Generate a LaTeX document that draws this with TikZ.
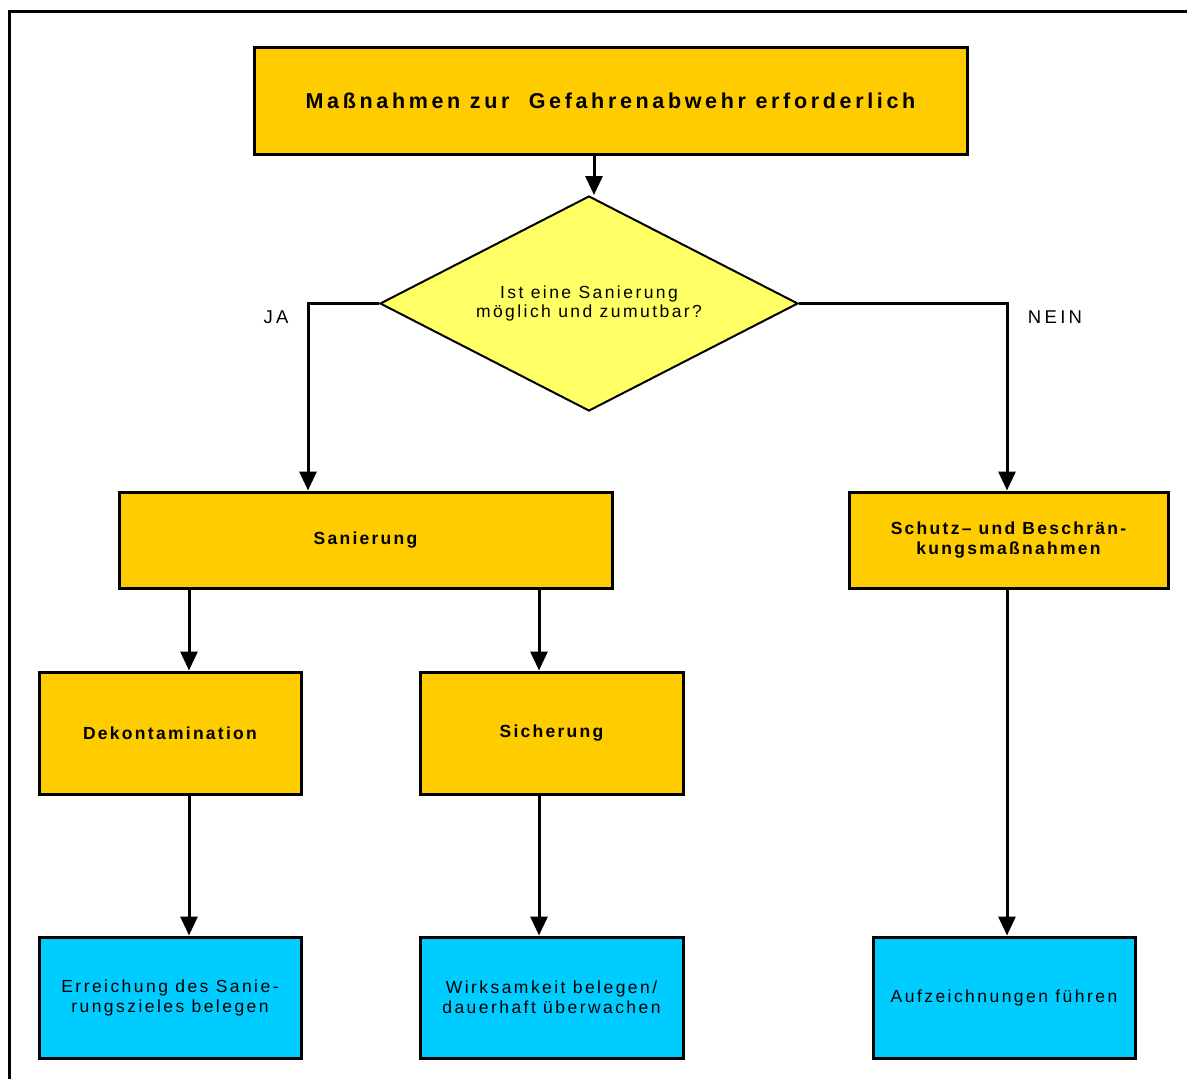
\documentclass[tikz,border=0pt]{standalone}
\usepackage{fontspec}
\setmainfont{Liberation Sans}
% letter-spaced Arial-like faces for the box labels
\newfontfamily\titlefont[LetterSpace=17]{Liberation Sans}
\newfontfamily\labelfont[LetterSpace=13]{Liberation Sans}
\newfontfamily\notefont[LetterSpace=14]{Liberation Sans}
\newfontfamily\branchfont[LetterSpace=18]{Liberation Sans}
\usetikzlibrary{arrows.meta,shapes.geometric}
\definecolor{boxyellow}{HTML}{FFCC00}
\definecolor{askyellow}{HTML}{FFFF66}
\definecolor{boxblue}{HTML}{00CCFF}

\begin{document}
\begin{tikzpicture}[x=1pt,y=-1pt,
  frame/.style={line width=3pt},
  stepbox/.style={draw, line width=3pt, fill=boxyellow, inner sep=0pt, align=center,
    font=\labelfont\bfseries\fontsize{17.5}{20}\selectfont},
  resultbox/.style={draw, line width=3pt, fill=boxblue, inner sep=0pt, align=center,
    font=\notefont\fontsize{17.5}{20}\selectfont},
  question/.style={draw, line width=2pt, fill=askyellow, shape=diamond, aspect=1.94,
    inner sep=0pt, align=center, minimum width=418pt, minimum height=215pt,
    font=\notefont\fontsize{17.5}{19}\selectfont},
  flow/.style={line width=3pt, -{Triangle[length=19pt,width=17pt]}},
  branch/.style={font=\branchfont\fontsize{18.5}{20}\selectfont}]
\useasboundingbox (0,0) rectangle (1187,1079);

% outer frame (open to the right and bottom)
\draw[frame] (9,1079) -- (9,11) -- (1187,11);

% columns used by the connectors
\coordinate (colT) at (594,0);
\coordinate (colJ) at (308,0);
\coordinate (colN) at (1007,0);
\coordinate (colA) at (189,0);
\coordinate (colB) at (539,0);

\node[stepbox, minimum width=713pt, minimum height=107pt,
      font=\titlefont\bfseries\fontsize{21.5}{22}\selectfont]
  (top) at (610.5,100.5) {Maßnahmen zur\ \ Gefahrenabwehr erforderlich};

\node[question] (ask) at (589,303.5) {Ist eine Sanierung\\möglich und zumutbar?};

\node[stepbox, minimum width=493pt, minimum height=96pt] (san) at (365.5,540) {Sanierung};
\node[stepbox, minimum width=319pt, minimum height=96pt] (schutz) at (1008.5,540)
  {Schutz– und Beschrän-\\kungsmaßnahmen};

\node[stepbox, minimum width=262pt, minimum height=122pt] (dek) at (170,733) {Dekontamination};
\node[stepbox, minimum width=263pt, minimum height=122pt] (sich) at (551.5,733) {Sicherung};

\node[resultbox, minimum width=262pt, minimum height=121pt] (ziel) at (170,997.5)
  {Erreichung des Sanie-\\rungszieles belegen};
\node[resultbox, minimum width=263pt, minimum height=121pt] (wirk) at (551.5,997.5)
  {Wirksamkeit belegen/\\dauerhaft überwachen};
\node[resultbox, minimum width=262pt, minimum height=121pt] (aufz) at (1004,997.5)
  {Aufzeichnungen führen};

\node[branch] (ja) at (276,317) {JA};
\node[branch] (nein) at (1055,317) {NEIN};

% connectors
\draw[flow] (top.south -| colT) -- (ask.north -| colT);
\draw[flow] (ask.west) -| (san.north -| colJ);
\draw[flow] (ask.east) -| (schutz.north -| colN);
\draw[flow] (san.south -| colA) -- (dek.north -| colA);
\draw[flow] (san.south -| colB) -- (sich.north -| colB);
\draw[flow] (dek.south -| colA) -- (ziel.north -| colA);
\draw[flow] (sich.south -| colB) -- (wirk.north -| colB);
\draw[flow] (schutz.south -| colN) -- (aufz.north -| colN);
\end{tikzpicture}
\end{document}
